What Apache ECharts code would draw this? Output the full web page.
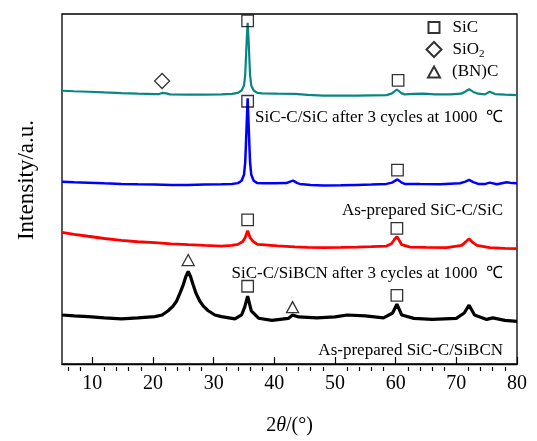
<!DOCTYPE html>
<html>
<head>
<meta charset="utf-8">
<script src="https://cdn.jsdelivr.net/npm/echarts@6/dist/echarts.min.js"></script>
<style>html,body{margin:0;padding:0;background:#fff}#c{width:537px;height:441px}</style>
</head>
<body>
<div id="c"></div>
<script>
// 2theta (deg), intensity (a.u., arbitrary stacked offsets)
const tealData = [[5,278.7],[7,278.2],[9.3,277.7],[12,277],[14.8,276.3],[17.5,275.7],[20.3,275.3],[21,275.3],[21.5,276.5],[21.8,278.3],[22.2,276],[22.8,275],[25.8,274.7],[28.5,274.7],[31.3,275],[33,275.5],[34,276.5],[34.6,279],[35,284],[35.2,295],[35.3,309],[35.45,331],[35.6,348],[35.75,331],[35.9,309],[36,295],[36.2,284],[36.6,279],[37.2,276.5],[38,276],[40.5,275.7],[43.4,275.5],[45.5,274.5],[48.1,273.7],[51,273.7],[53.6,273.7],[56,274],[58.5,274.3],[59.4,276],[60.2,280],[61,276],[61.5,275],[63,275.5],[64.6,275.7],[66.5,275],[69,275],[70.8,275.7],[71.5,278],[72.1,280.3],[72.8,277.5],[73.6,275.7],[74.7,275],[75.5,277.7],[76.4,275.3],[78,274.7],[80,274.3]];
const blueData = [[5,186],[7,185.3],[9.3,185],[12,184.3],[14.8,183.7],[17.5,183.3],[20.3,183],[23,182.7],[25.8,182.7],[28.5,183],[31.3,183.3],[33,183.7],[34,184.5],[34.6,187],[35,193],[35.2,206],[35.3,221],[35.45,246],[35.6,271],[35.75,246],[35.9,221],[36,206],[36.2,193],[36.6,187],[37.2,184.5],[38,184.3],[40,184.3],[42,184.5],[42.6,186],[43.1,187],[43.8,184.5],[44.2,183.7],[46,182.5],[48.1,182],[51,182.3],[53.6,182.7],[56,183],[58.5,183.7],[59.4,185],[60.3,188.3],[61,185],[61.5,183.7],[64,183.5],[67.3,183.3],[70.6,184.3],[71.5,186],[72.1,187.7],[72.8,185.5],[73.6,183.7],[74.8,183.7],[75.5,185],[76.7,183.3],[78.3,185.3],[79.2,184.5],[80,184.3]];
const redData = [[5,134.3],[7,132.3],[9.3,130.3],[12,128],[14.8,126],[17.5,124.7],[20.3,123.7],[23,122.5],[25.8,121.7],[28.5,121],[31.3,120.3],[33,121],[34,122],[34.8,125],[35.2,129],[35.6,136],[36,129],[36.5,125],[37.2,122],[37.9,121.7],[40.5,120.5],[43.4,119.5],[45.5,119],[48.1,118.7],[51,119],[53.6,119.3],[56,119.7],[58.5,120.3],[59.3,122.7],[59.8,127],[60.2,130],[60.6,126],[61,121.7],[62.4,119.3],[65,119],[68.4,118.7],[70.9,121],[71.6,125],[72.1,127.7],[72.7,124],[73.4,121],[75.5,118.7],[78,118],[80,117.7]];
const blackData = [[5,50],[7,49],[9.3,48.3],[12,47],[14.8,46],[17.5,47],[20.3,48.3],[21.5,50],[22.5,54.3],[23.3,59],[23.9,64.3],[24.5,73],[25,81],[25.4,89],[25.8,94.3],[26.2,89],[26.6,81],[27.1,72],[27.7,64.3],[28.3,59],[29.1,54.3],[30.2,50],[31.3,48.3],[33.5,46],[34.6,50],[35.1,57.7],[35.6,69.3],[36.2,54.3],[37.4,46.7],[39.6,44.5],[42.3,46.5],[43,50],[44,48],[47,47],[50,48],[52,50],[55,49],[58,47],[59.5,52],[60.2,61],[61,50],[63,46.5],[66,45.5],[70,46.5],[71.3,52],[72.1,60],[73,50],[75,45.5],[76,47],[78,44.5],[80,43.5]];

// phase markers [2theta, height]
const sicMarks = [[35.6,350],[60.4,289.3],[35.6,268],[60.3,197.7],[35.6,147],[60.2,138.3],[35.6,79.3],[60.2,70]];
const sio2Marks = [[21.5,288.7]];
const bncMarks = [[25.8,106],[43,58]];

const majorTicks = [10,20,30,40,50,60,70,80];
const minorTicks = [6,8,12,14,16,18,22,24,26,28,32,34,36,38,42,44,46,48,52,54,56,58,62,64,66,68,72,74,76,78];

const sampleLabels = [
  ['SiC-C/SiC after 3 cycles at 1000  ℃', 118],
  ['As-prepared SiC-C/SiC', 211],
  ['SiC-C/SiBCN after 3 cycles at 1000  ℃', 274],
  ['As-prepared SiC-C/SiBCN', 351]
];

const FONT = '"Liberation Serif","Times New Roman",serif';
const chart = echarts.init(document.getElementById('c'), null, {renderer:'canvas'});
const gridPos = {left:62, right:20, top:14, bottom:70};
const markStyle = {color:'rgba(0,0,0,0)', borderColor:'#000', borderWidth:1.3};
const legendText = {fontFamily:FONT, fontSize:17, color:'#000', lineHeight:20};

chart.setOption({
  animation:false,
  backgroundColor:'#fff',
  grid:[
    Object.assign({show:true, borderColor:'#000', borderWidth:1.3}, gridPos),
    Object.assign({show:false}, gridPos)
  ],
  xAxis:[
    {type:'value', gridIndex:0, min:5, max:80,
     axisLine:{show:true, lineStyle:{color:'#000', width:1.3}},
     axisTick:{show:true, inside:true, length:7, customValues:majorTicks, lineStyle:{color:'#000', width:1.2}},
     axisLabel:{customValues:majorTicks, fontFamily:FONT, fontSize:20, color:'#000', margin:10},
     splitLine:{show:false},
     name:'2{i|θ}/(°)', nameLocation:'middle', nameGap:52,
     nameTextStyle:{fontFamily:FONT, fontSize:20, color:'#000', rich:{i:{fontFamily:FONT, fontSize:20, fontStyle:'italic', color:'#000'}}}
    },
    {type:'value', gridIndex:1, min:5, max:80,
     axisLine:{show:false},
     axisTick:{show:true, inside:true, length:4, customValues:minorTicks, lineStyle:{color:'#000', width:1.2}},
     axisLabel:{show:false}, splitLine:{show:false}
    }
  ],
  yAxis:[
    {type:'value', gridIndex:0, min:0, max:357,
     axisLine:{show:false}, axisTick:{show:false}, axisLabel:{show:false}, splitLine:{show:false}},
    {type:'value', gridIndex:1, min:0, max:357, show:false}
  ],
  legend:[
    {data:['SiC'], orient:'vertical', left:427.5, top:17.5, padding:0, itemWidth:11, itemHeight:11,
     textStyle:Object.assign({padding:[0,0,0,8]}, legendText), selectedMode:false},
    {data:['SiO2'], orient:'vertical', left:425.5, top:39.5, padding:0, itemWidth:15, itemHeight:15,
     formatter:function(){return 'SiO{s|2}';},
     textStyle:Object.assign({padding:[0,0,0,6], rich:{s:{fontFamily:FONT, fontSize:11, color:'#000', verticalAlign:'bottom', padding:[8,0,0,0]}}}, legendText), selectedMode:false},
    {data:['(BN)C'], orient:'vertical', left:427, top:62, padding:0, itemWidth:12, itemHeight:11,
     textStyle:Object.assign({padding:[0,0,0,7]}, legendText), selectedMode:false}
  ],
  graphic: sampleLabels.map(function(l){
    return {type:'text', x:503, y:l[1], silent:true,
      style:{text:l[0], align:'right', verticalAlign:'middle', font:'17px ' + FONT, fill:'#000'}};
  }).concat([
    {type:'text', x:27, y:180, rotation:Math.PI/2, silent:true,
     style:{text:'Intensity/a.u.', align:'center', verticalAlign:'middle', font:'23px ' + FONT, fill:'#000'}}
  ]),
  series:[
    {type:'line', name:'teal', data:tealData, showSymbol:false, silent:true, lineStyle:{color:'#088782', width:2.2}, z:2},
    {type:'line', name:'blue', data:blueData, showSymbol:false, silent:true, lineStyle:{color:'#0000ff', width:2.5}, z:2},
    {type:'line', name:'red', data:redData, showSymbol:false, silent:true, lineStyle:{color:'#ff0000', width:2.8}, z:2},
    {type:'line', name:'black', data:blackData, showSymbol:false, silent:true, lineStyle:{color:'#000', width:3.2}, z:2},
    {type:'scatter', name:'SiC', data:sicMarks, symbol:'rect', symbolSize:11.5, itemStyle:markStyle, silent:true, z:5},
    {type:'scatter', name:'SiO2', data:sio2Marks, symbol:'diamond', symbolSize:[15,15], itemStyle:markStyle, silent:true, z:5},
    {type:'scatter', name:'(BN)C', data:bncMarks, symbol:'triangle', symbolSize:[12,11], itemStyle:markStyle, silent:true, z:5}
  ]
});
</script>
</body>
</html>
